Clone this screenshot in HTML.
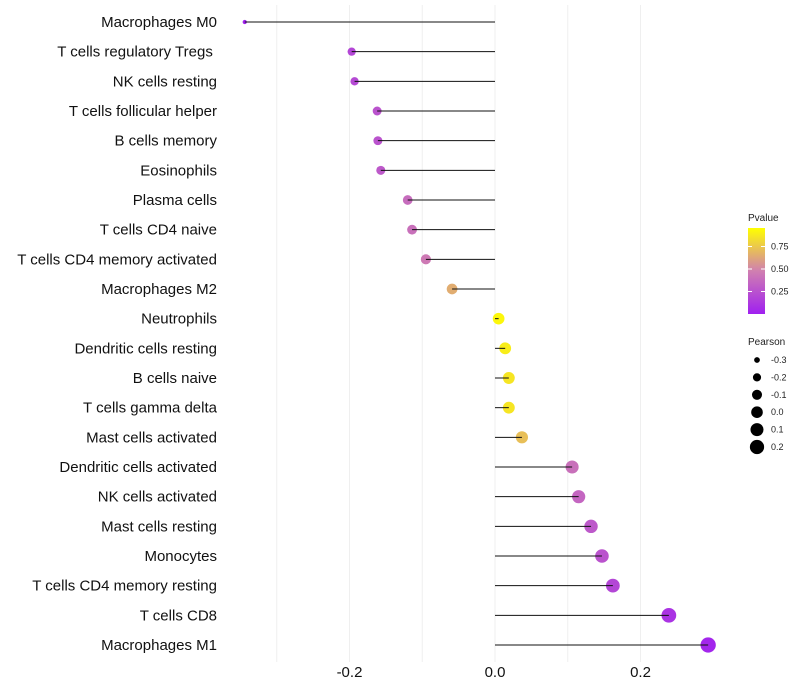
<!DOCTYPE html>
<html><head><meta charset="utf-8"><style>
body{margin:0;background:#fff;font-family:"Liberation Sans",sans-serif}
svg{display:block}
</style></head><body>
<svg id="chart" width="800" height="700" xmlns="http://www.w3.org/2000/svg">
<defs><linearGradient id="pg" x1="0" y1="1" x2="0" y2="0">
<stop offset="0" stop-color="#A020F0"/><stop offset="0.5" stop-color="#D07FB0"/><stop offset="1" stop-color="#FFFF00"/></linearGradient></defs>
<g id="grid"></g>
<g id="marks"></g>
<g id="ylabels"></g>
<g id="xlabels"></g>
<g font-size="10" fill="#222">
<text x="748" y="221">Pvalue</text>
<rect x="748" y="228" width="17" height="86" fill="url(#pg)"/>
<g id="cbticks"></g>
</g>
<g id="sizeleg" font-size="9" fill="#222">
<text x="748" y="345" font-size="10">Pearson</text>
</g>
</svg>
<script>
const categories=["Macrophages M0","T cells regulatory  Tregs\u00a0","NK cells resting","T cells follicular helper","B cells memory","Eosinophils","Plasma cells","T cells CD4 naive","T cells CD4 memory activated","Macrophages M2","Neutrophils","Dendritic cells resting","B cells naive","T cells gamma delta","Mast cells activated","Dendritic cells activated","NK cells activated","Mast cells resting","Monocytes","T cells CD4 memory resting","T cells CD8","Macrophages M1"];
const pearson=[-0.344,-0.197,-0.193,-0.162,-0.161,-0.157,-0.120,-0.114,-0.095,-0.059,0.005,0.014,0.019,0.019,0.037,0.106,0.115,0.132,0.147,0.162,0.239,0.293];
const pvalue=[0.01,0.2,0.22,0.27,0.27,0.3,0.4,0.42,0.47,0.68,0.97,0.93,0.9,0.9,0.75,0.42,0.37,0.3,0.27,0.2,0.1,0.03];
const xTicks=[-0.2,0,0.2];
const xTickLabels=["-0.2","0.0","0.2"];
const cbTicks=[0.25,0.5,0.75];
const sizeLegend=[-0.3,-0.2,-0.1,0.0,0.1,0.2];
const NS="http://www.w3.org/2000/svg";
const xs=v=>495+v*727.5;
const ys=i=>22+i*(623/21);
const rs=v=>Math.sqrt(4.5+85*(v+0.344));
function col(p){const a=[160,32,240],m=[208,127,176],b=[255,255,0];let c;
 if(p<0.5){const t=p/0.5;c=a.map((x,k)=>x+(m[k]-x)*t);}else{const t=(p-0.5)/0.5;c=m.map((x,k)=>x+(b[k]-x)*t);}
 return `rgb(${c.map(Math.round).join(',')})`;}
function mk(tag,at,par){const e=document.createElementNS(NS,tag);for(const k in at)e.setAttribute(k,at[k]);par.appendChild(e);return e;}
const grid=document.getElementById('grid');
[-0.3,-0.2,-0.1,0,0.1,0.2].forEach(v=>{const l=mk('line',{x1:xs(v),x2:xs(v),y1:5,y2:662,stroke:'#efefef','stroke-width':1},grid);

});
const marks=document.getElementById('marks'),yl=document.getElementById('ylabels');
categories.forEach((c,i)=>{
 const cir=mk('circle',{cx:xs(pearson[i]),cy:ys(i),r:rs(pearson[i]),fill:col(pvalue[i])},marks);
 
 
 const sg=mk('line',{x1:xs(0),x2:xs(pearson[i]),y1:ys(i),y2:ys(i),stroke:'#111','stroke-width':1},marks);
 
 
 const t=mk('text',{x:217,y:ys(i)+5,'text-anchor':'end','font-size':15,fill:'#111'},yl);t.textContent=c;
 
 
});
const xl=document.getElementById('xlabels');
xTicks.forEach((v,i)=>{const t=mk('text',{x:xs(v),y:677,'text-anchor':'middle','font-size':15,fill:'#111'},xl);t.textContent=xTickLabels[i];
 
 });
const cb=document.getElementById('cbticks');
cbTicks.forEach(p=>{const y=314-p*90;
 mk('line',{x1:748,x2:752,y1:y,y2:y,stroke:'#fff'},cb);mk('line',{x1:761,x2:765,y1:y,y2:y,stroke:'#fff'},cb);
 const t=mk('text',{x:771,y:y+3,'font-size':9},cb);t.textContent=p.toFixed(2);
 
 });
const sl=document.getElementById('sizeleg');
sizeLegend.forEach((v,i)=>{const y=360+i*17.4;
 const c=mk('circle',{cx:757,cy:y,r:rs(v),fill:'#000'},sl);
 
 
 const t=mk('text',{x:771,y:y+3},sl);t.textContent=v.toFixed(1);
 
 });
</script>
</body></html>
